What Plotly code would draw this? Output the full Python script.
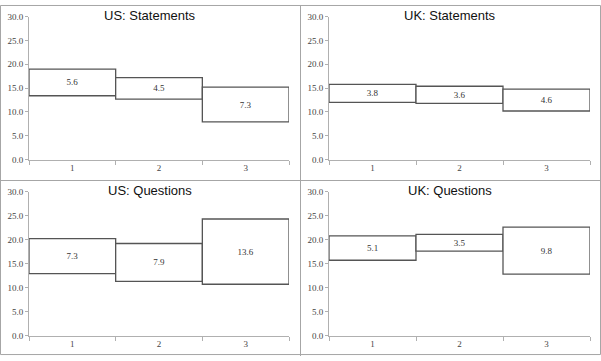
import plotly.graph_objects as go

W, H = 601, 361

categories = ["1", "2", "3"]
titles = ["US: Statements", "UK: Statements", "US: Questions", "UK: Questions"]
us_statements_base = [13.4, 12.7, 7.9]
us_statements_height = [5.6, 4.5, 7.3]
uk_statements_base = [12.0, 11.8, 10.2]
uk_statements_height = [3.8, 3.6, 4.6]
us_questions_base = [12.9, 11.3, 10.7]
us_questions_height = [7.3, 7.9, 13.6]
uk_questions_base = [15.7, 17.6, 12.8]
uk_questions_height = [5.1, 3.5, 9.8]

bases = [us_statements_base, uk_statements_base, us_questions_base, uk_questions_base]
heights = [us_statements_height, uk_statements_height, us_questions_height, uk_questions_height]

# plot-area pixel boxes (x0, x1, ytop, ybottom)
boxes = [(29, 289, 12, 159), (329, 590, 12, 159), (29, 289, 192, 340), (329, 590, 192, 340)]

fig = go.Figure()
layout = dict(
    width=W, height=H, margin=dict(l=0, r=0, t=0, b=0),
    paper_bgcolor="white", plot_bgcolor="white", showlegend=False,
    bargap=0, annotations=[], shapes=[],
)

for i in range(4):
    n = "" if i == 0 else str(i + 1)
    xa, ya = "x" + n, "y" + n
    fig.add_trace(go.Bar(
        x=categories, y=heights[i], base=bases[i], width=1,
        xaxis=xa, yaxis=ya,
        marker=dict(color="white", line=dict(color="#555555", width=1.3)),
        text=[f"{v:.1f}" for v in heights[i]], textposition="inside",
        insidetextanchor="middle", textangle=0,
        textfont=dict(family="Liberation Serif", size=9, color="#333333"),
        hoverinfo="skip",
    ))
    x0, x1, yt, yb = boxes[i]
    layout["xaxis" + n] = dict(
        domain=[x0 / W, x1 / W], anchor=ya, type="category",
        range=[-0.5, 2.5], tickson="boundaries", ticks="outside", ticklen=4,
        tickcolor="#b0b0b0", showline=True, linecolor="#b0b0b0", showgrid=False,
        tickfont=dict(family="Liberation Serif", size=9, color="#444444"),
        fixedrange=True,
    )
    layout["yaxis" + n] = dict(
        domain=[1 - yb / H, 1 - yt / H], anchor=xa, range=[0, 30], dtick=5,
        tickformat=".1f", ticks="outside", ticklen=3, tickcolor="#b0b0b0",
        showline=True, linecolor="#b0b0b0", showgrid=False, zeroline=False,
        tickfont=dict(family="Liberation Serif", size=9, color="#444444"),
        fixedrange=True,
    )
    layout["annotations"].append(dict(
        text=titles[i], xref="paper", yref="paper",
        x=(150 + (300 if i % 2 else 0)) / W, y=1 - ((11 if i < 2 else 191)) / H,
        xanchor="center", yanchor="middle", showarrow=False,
        font=dict(family="Liberation Sans", size=13, color="#111111"),
    ))

border = "#a6a6a6"
layout["shapes"] += [
    dict(type="rect", xref="paper", yref="paper", x0=0.5 / W, x1=1 - 0.5 / W,
         y0=1.5 / H, y1=1 - 0.5 / H, line=dict(color=border, width=1)),
    dict(type="line", xref="paper", yref="paper", x0=300.5 / W, x1=300.5 / W,
         y0=0, y1=1, line=dict(color=border, width=1)),
    dict(type="line", xref="paper", yref="paper", x0=0, x1=1,
         y0=1 - 180.5 / H, y1=1 - 180.5 / H, line=dict(color=border, width=1)),
]

fig.update_layout(**layout)
fig.write_html(
    "out.html",
    config={"displayModeBar": False, "staticPlot": True},
    post_script="document.body.style.margin='0';document.body.style.overflow='hidden';",
)
